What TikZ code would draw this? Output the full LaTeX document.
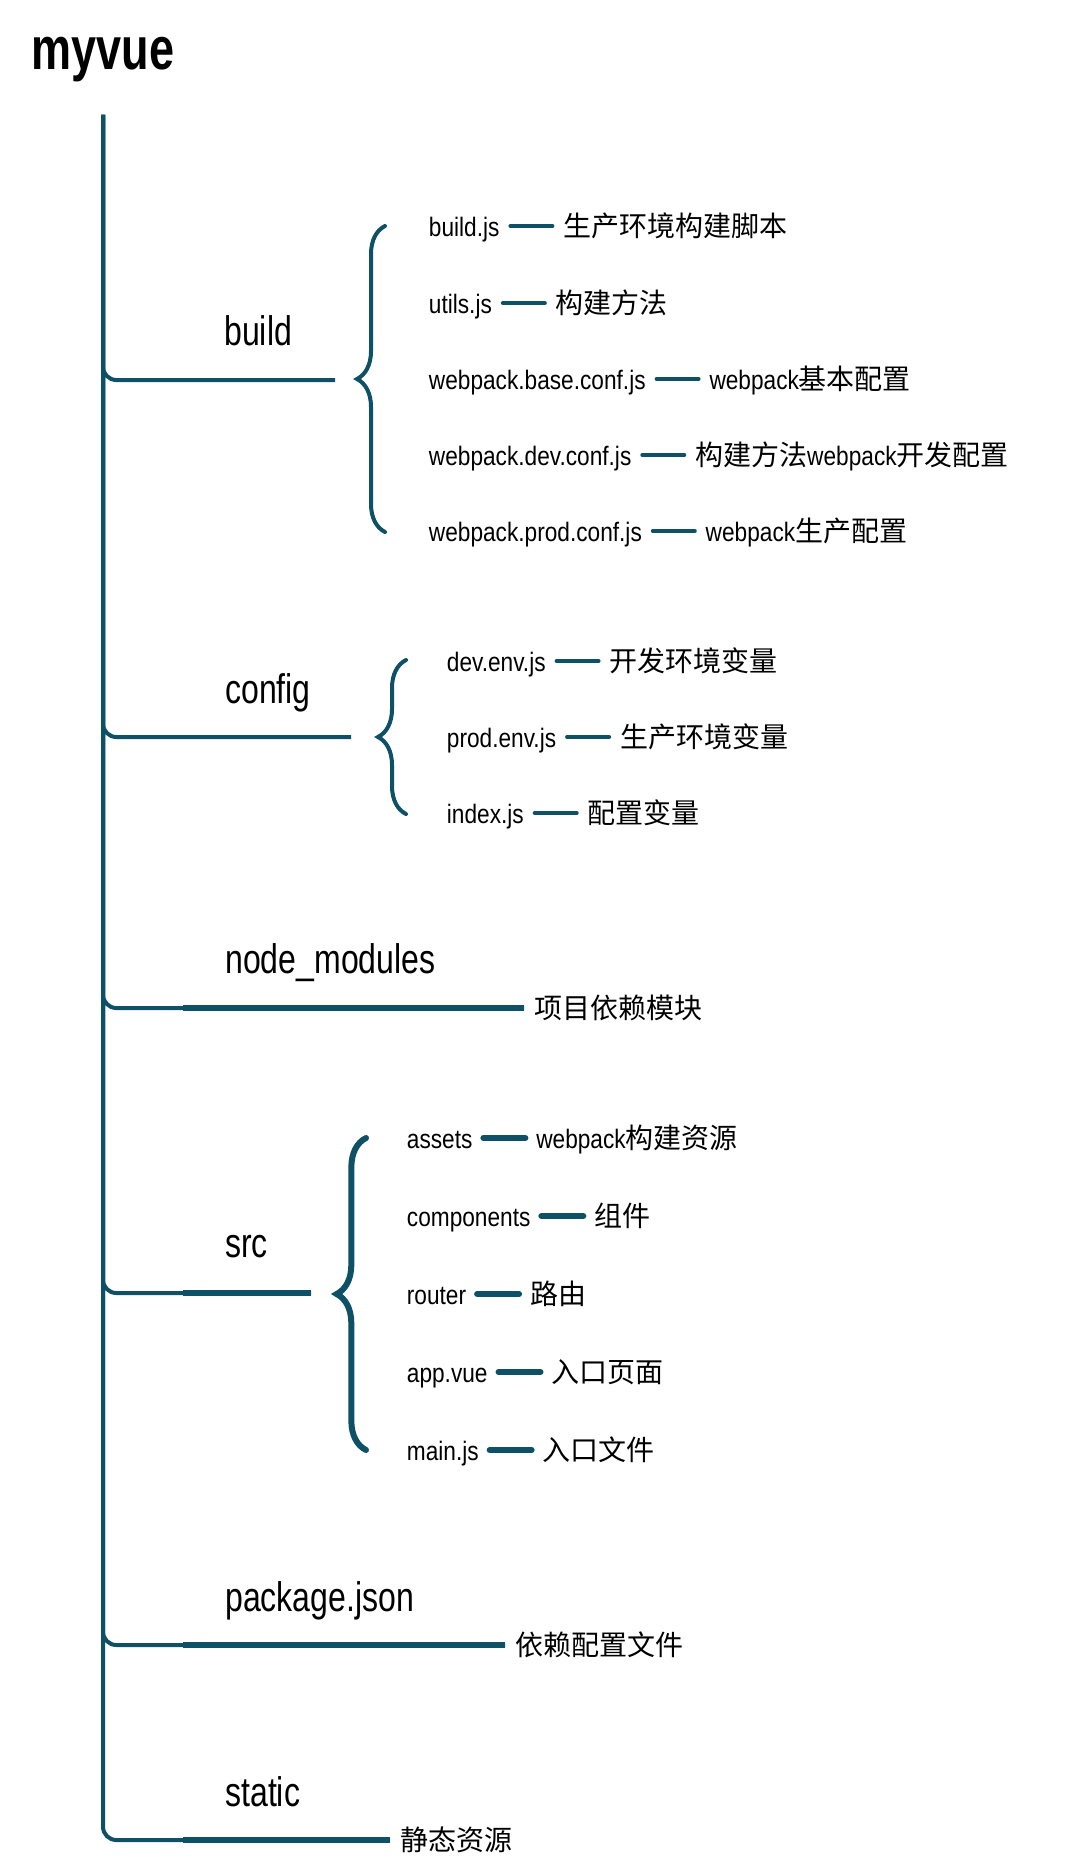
\documentclass[tikz,border=0pt]{standalone}
\usepackage{fontspec}
\setmainfont[FakeStretch=0.85]{Liberation Sans}
\newfontfamily\labelfont[FakeStretch=0.775]{Liberation Sans}
\newfontfamily\titlefont[FakeStretch=0.75]{Liberation Sans}
\newfontfamily\cjk{Noto Sans CJK SC}
\usepackage{xcolor}
\usetikzlibrary{positioning, decorations.pathreplacing}
\definecolor{treeblue}{RGB}{14,80,102}
\newcommand{\westtext}[1]{{\rmfamily\fontsize{20}{24}\selectfont #1}}

\tikzset{
  stem/.style={draw=treeblue, line width=3pt, rounded corners=10pt},
  bar/.style={draw=treeblue, line width=4.5pt},
  link/.style={draw=treeblue, line width=3pt, line cap=round},
  boldlink/.style={link, line width=4.5pt},
  curly/.style={draw=treeblue, line width=3pt, line cap=round, decorate, decoration={brace, amplitude=21pt}},
  folder/.style={font=\labelfont\fontsize{31}{36}\selectfont, inner sep=0pt, anchor=base west},
  file/.style={font=\fontsize{20}{24}\selectfont, inner xsep=8pt, inner ysep=0pt, text height=18pt, text depth=2pt, anchor=west},
  note/.style={file, font=\cjk\fontsize{21}{24}\selectfont},
}

\begin{document}
\begin{tikzpicture}[x=0.75pt, y=-0.75pt, node distance=31.5pt]
        \useasboundingbox (0,0) rectangle (1067,1858);

        % root and trunk
        \node (root) [font=\titlefont\bfseries\fontsize{45}{50}\selectfont, anchor=base, inner sep=0pt] at (103,70) {myvue};
        \coordinate (top) at (103,115);

        % folders
        \node (build) [folder] at (224,345) {build};
        \node (config) [folder] at (225,703) {config};
        \node (nodemods) [folder] at (225,973) {node\_modules};
        \node (src) [folder] at (225,1257) {src};
        \node (pkg) [folder] at (225,1611) {package.json};
        \node (static) [folder] at (225,1806) {static};

        \coordinate (buildend) at (335,380);
        \coordinate (configend) at (351,737);
        \coordinate (nodeend) at (524,1008);
        \coordinate (srcend) at (311,1293);
        \coordinate (pkgend) at (505,1645);
        \coordinate (staticend) at (390,1840);
        \coordinate (barstart) at (183,0);

        \foreach \e in {buildend,configend,nodeend,srcend,pkgend,staticend}
            \draw[stem] (top) |- (\e);
        \foreach \e in {nodeend,srcend,pkgend,staticend}
            \draw[bar] (barstart |- \e) -- (\e);

        \node (nodenote) [note, right=0pt of nodeend] {项目依赖模块};
        \node (pkgnote) [note, right=0pt of pkgend] {依赖配置文件};
        \node (staticnote) [note, right=0pt of staticend] {静态资源};

        % build
        \coordinate (buildtop) at (385,226);
        \coordinate (buildbot) at (385,532);
        \draw[curly] (buildbot) -- (buildtop);

        \node (buildjs) [file] at (418,226) {build.js};
        \node (utils) [file] at (418,303) {utils.js};
        \node (base) [file] at (418,379) {webpack.base.conf.js};
        \node (dev) [file] at (418,455) {webpack.dev.conf.js};
        \node (prod) [file] at (418,531) {webpack.prod.conf.js};

        \node (buildjsnote) [note, right=of buildjs] {生产环境构建脚本};
        \node (utilsnote) [note, right=of utils] {构建方法};
        \node (basenote) [note, right=of base] {\westtext{webpack}基本配置};
        \node (devnote) [note, right=of dev] {构建方法\westtext{webpack}开发配置};
        \node (prodnote) [note, right=of prod] {\westtext{webpack}生产配置};

        \draw[link] (buildjs) -- (buildjsnote);
        \draw[link] (utils) -- (utilsnote);
        \draw[link] (base) -- (basenote);
        \draw[link] (dev) -- (devnote);
        \draw[link] (prod) -- (prodnote);

        % config
        \coordinate (configtop) at (406,660);
        \coordinate (configbot) at (406,814);
        \draw[curly] (configbot) -- (configtop);

        \node (devenv) [file] at (436,661) {dev.env.js};
        \node (prodenv) [file] at (436,737) {prod.env.js};
        \node (index) [file] at (436,813) {index.js};

        \node (devenvnote) [note, right=of devenv] {开发环境变量};
        \node (prodenvnote) [note, right=of prodenv] {生产环境变量};
        \node (indexnote) [note, right=of index] {配置变量};

        \draw[link] (devenv) -- (devenvnote);
        \draw[link] (prodenv) -- (prodenvnote);
        \draw[link] (index) -- (indexnote);

        % src
        \coordinate (srctop) at (366,1138);
        \coordinate (srcbot) at (366,1450);
        \draw[curly, line width=4.5pt, decoration={brace, amplitude=22pt}] (srcbot) -- (srctop);

        \node (assets) [file] at (396,1138) {assets};
        \node (comps) [file] at (396,1216) {components};
        \node (router) [file] at (396,1294) {router};
        \node (app) [file] at (396,1372) {app.vue};
        \node (mainjs) [file] at (396,1450) {main.js};

        \node (assetsnote) [note, right=of assets] {\westtext{webpack}构建资源};
        \node (compsnote) [note, right=of comps] {组件};
        \node (routernote) [note, right=of router] {路由};
        \node (appnote) [note, right=of app] {入口页面};
        \node (mainjsnote) [note, right=of mainjs] {入口文件};

        \draw[boldlink] (assets) -- (assetsnote);
        \draw[boldlink] (comps) -- (compsnote);
        \draw[boldlink] (router) -- (routernote);
        \draw[boldlink] (app) -- (appnote);
        \draw[boldlink] (mainjs) -- (mainjsnote);
    \end{tikzpicture}
\end{document}
